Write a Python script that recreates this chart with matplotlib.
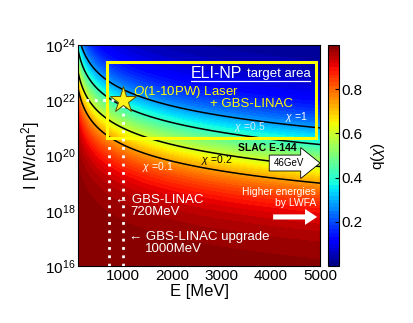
import numpy as np
import matplotlib
matplotlib.use("Agg")
import matplotlib.pyplot as plt
from matplotlib.patches import Rectangle, FancyArrow

plt.rcParams['font.family'] = ['Liberation Sans', 'DejaVu Sans']
plt.rcParams['mathtext.fontset'] = 'custom'
plt.rcParams['mathtext.rm'] = 'Liberation Sans'
plt.rcParams['mathtext.it'] = 'Liberation Sans:italic'

# axis ranges
e_range = [100, 5000]          # MeV
i_exp_range = [16, 24]         # log10 of W/cm^2
xticks = [1000, 2000, 3000, 4000, 5000]
yticks = [1e16, 1e18, 1e20, 1e22, 1e24]
cbar_ticks = [0.2, 0.4, 0.6, 0.8]

# chi = 1 crosses the right edge (5000 MeV) at about 1e21 W/cm^2
chi_ref_E = 5000.0
chi_ref_I = 1e21
chi_levels = [0.1, 0.2, 0.5, 1.0]
chi_labels = ['$\\chi$ =0.1', '$\\chi$ =0.2', '$\\chi$ =0.5', '$\\chi$ =1']

# GBS-LINAC energies and laser intensity
gbs_energies = [720, 1000]
laser_I = 1e22

# ELI-NP target area box (E, log10 I)
box_E = [676, 4913]
box_logI = [20.65, 23.37]

# grid for the q(chi) map
E = np.linspace(e_range[0], e_range[1], 400)
I = np.logspace(i_exp_range[0], i_exp_range[1], 400)
EE, II = np.meshgrid(E, I)
chi = (EE / chi_ref_E) * np.sqrt(II / chi_ref_I)
q = (1 + 4.8 * (1 + chi) * np.log(1 + 1.7 * chi) + 2.44 * chi**2) ** (-0.5)

fig = plt.figure(figsize=(4.14, 3.23), dpi=100)
ax = fig.add_axes([0.189, 0.1765, 0.584, 0.684])
cax = fig.add_axes([0.792, 0.1765, 0.027, 0.684])

cf = ax.contourf(EE, II, q, levels=np.linspace(0, 1, 61), cmap='jet', vmin=0, vmax=1)
ax.contour(EE, II, chi, levels=chi_levels, colors='k', linewidths=1.1)
ax.set_yscale('log')
ax.set_xlim(e_range)
ax.set_ylim(10.0**i_exp_range[0], 10.0**i_exp_range[1])
ax.set_xticks(xticks)
ax.set_yticks(yticks)
ax.minorticks_off()
ax.tick_params(labelsize=11, length=0, pad=2)
ax.set_xlabel('E [MeV]', fontsize=12, labelpad=1)
ax.set_ylabel('I [W/cm$^2$]', fontsize=12, labelpad=2)

cb = fig.colorbar(cf, cax=cax, ticks=cbar_ticks)
cb.ax.tick_params(labelsize=11, direction='in', length=3, pad=2)
cb.set_label('q($\\chi$)', fontsize=11, labelpad=4)

# target area box
ax.add_patch(Rectangle((box_E[0], 10**box_logI[0]), box_E[1] - box_E[0],
                       10**box_logI[1] - 10**box_logI[0],
                       fill=False, ec=(1, 1, 0), lw=2.2, zorder=4))

# dotted guide lines
dots = dict(color='white', lw=2, ls=(0, (1, 2)), zorder=5)
ax.plot([gbs_energies[0], gbs_energies[0]], [1e16, 10**20.45], **dots)
ax.plot([gbs_energies[1], gbs_energies[1]], [1e16, laser_I], **dots)
ax.plot([250, gbs_energies[1]], [laser_I, laser_I], **dots)
ax.plot([gbs_energies[1]], [laser_I], marker='*', ms=20, mfc=(1, 0.95, 0.1),
        mec=(0.35, 0.3, 0), mew=0.7, zorder=6)

t = ax.transAxes
ax.text(0.467, 0.873, 'ELI-NP', transform=t, color='white', fontsize=11.5,
        ha='left', va='center')
ax.text(0.96, 0.868, 'target area', transform=t, color='white', fontsize=9.5,
        ha='right', va='center')
ax.plot([0.467, 0.96], [0.838, 0.838], transform=t, color='white', lw=0.9)
ax.text(0.227, 0.787, '$\\it{O}$(1-10PW) Laser', transform=t, color=(1, 1, 0),
        fontsize=9.5, ha='left', va='center')
ax.text(0.545, 0.733, '+ GBS-LINAC', transform=t, color=(1, 1, 0),
        fontsize=9.5, ha='left', va='center')

lab_pos = [(0.33, 0.448), (0.574, 0.48), (0.71, 0.629), (0.904, 0.674)]
lab_col = ['white', 'black', (0.85, 0.92, 1), 'white']
for s, (x, y), c in zip(chi_labels, lab_pos, lab_col):
    ax.text(x, y, s, transform=t, color=c, fontsize=7.5, ha='center', va='center')

ax.text(0.783, 0.534, 'SLAC E-144', transform=t, color='black', fontsize=7.5,
        fontweight='bold', ha='center', va='center')

# 46 GeV arrow
ax.add_patch(FancyArrow(0.79, 0.466, 0.21, 0, width=0.072, head_width=0.14,
                        head_length=0.08, length_includes_head=True,
                        transform=t, fc='white', ec='black', lw=0.6,
                        clip_on=False, zorder=6))
ax.text(0.873, 0.466, '46GeV', transform=t, color='black', fontsize=7,
        ha='center', va='center', zorder=7)

ax.text(0.983, 0.31, 'Higher energies\nby LWFA', transform=t, color='white',
        fontsize=7.5, ha='right', va='center', linespacing=1.1)
ax.add_patch(FancyArrow(0.806, 0.222, 0.182, 0, width=0.023, head_width=0.072,
                        head_length=0.05, length_includes_head=True,
                        transform=t, fc='white', ec='none', zorder=6))

ax.text(0.152, 0.299, '\u2190 GBS-LINAC', transform=t, color='white',
        fontsize=9.5, ha='left', va='center')
ax.text(0.214, 0.244, '720MeV', transform=t, color='white',
        fontsize=9.5, ha='left', va='center')
ax.text(0.21, 0.131, '\u2190 GBS-LINAC upgrade', transform=t, color='white',
        fontsize=9.5, ha='left', va='center')
ax.text(0.276, 0.077, '1000MeV', transform=t, color='white',
        fontsize=9.5, ha='left', va='center')

fig.savefig('out.png', dpi=100)
